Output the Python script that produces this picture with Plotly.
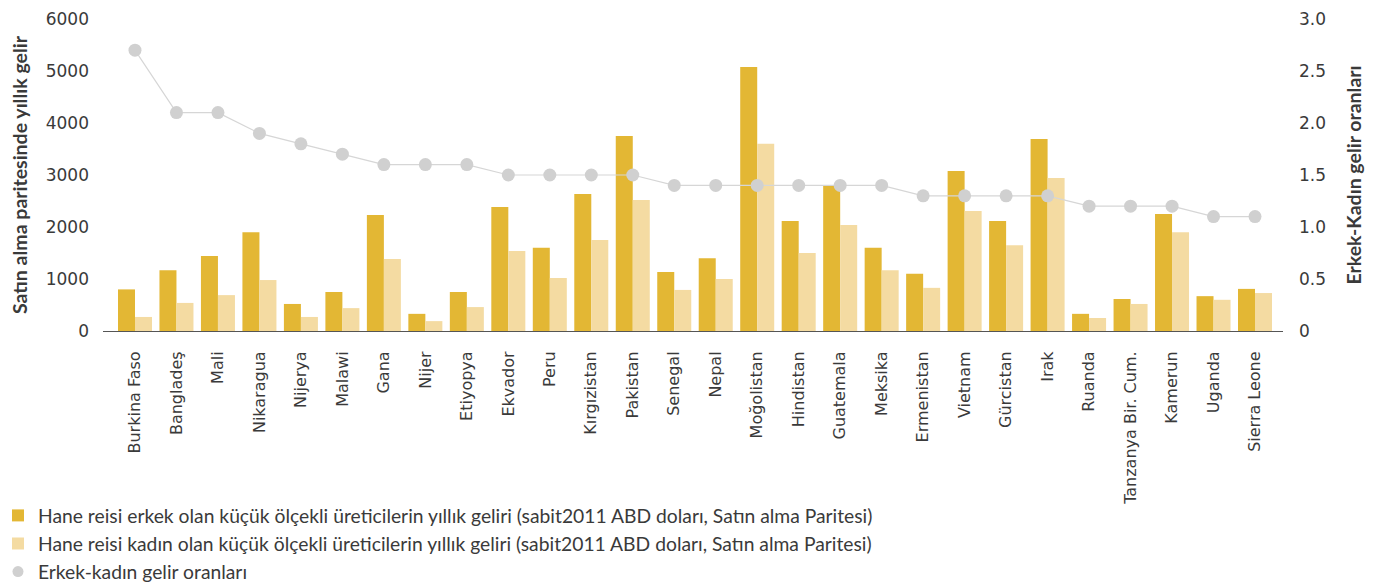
import plotly.graph_objects as go

countries = ["Burkina Faso", "Bangladeş", "Mali", "Nikaragua", "Nijerya", "Malawi", "Gana", "Nijer",
             "Etiyopya", "Ekvador", "Peru", "Kırgızistan", "Pakistan", "Senegal", "Nepal", "Moğolistan",
             "Hindistan", "Guatemala", "Meksika", "Ermenistan", "Vietnam", "Gürcistan", "Irak", "Ruanda",
             "Tanzanya Bir. Cum.", "Kamerun", "Uganda", "Sierra Leone"]
male_income = [800, 1170, 1440, 1900, 520, 750, 2230, 330,
               750, 2385, 1600, 2635, 3750, 1135, 1400, 5077,
               2115, 2790, 1600, 1100, 3077, 2115, 3690, 330,
               615, 2250, 670, 810]
female_income = [270, 540, 690, 980, 270, 440, 1385, 190,
                 460, 1540, 1020, 1750, 2520, 790, 1000, 3600,
                 1500, 2040, 1170, 830, 2310, 1650, 2940, 250,
                 520, 1900, 600, 730]
ratio = [2.7, 2.1, 2.1, 1.9, 1.8, 1.7, 1.6, 1.6,
         1.6, 1.5, 1.5, 1.5, 1.5, 1.4, 1.4, 1.4,
         1.4, 1.4, 1.4, 1.3, 1.3, 1.3, 1.3, 1.2,
         1.2, 1.2, 1.1, 1.1]
left_ticks = [0, 1000, 2000, 3000, 4000, 5000, 6000]
right_ticks = [0, 0.5, 1.0, 1.5, 2.0, 2.5, 3.0]
right_ticktext = ["0", "0.5", "1.0", "1.5", "2.0", "2.5", "3.0"]

name_m = "Hane reisi erkek olan küçük ölçekli üreticilerin yıllık geliri (sabit2011 ABD doları, Satın alma Paritesi)"
name_f = "Hane reisi kadın olan küçük ölçekli üreticilerin yıllık geliri (sabit2011 ABD doları, Satın alma Paritesi)"
name_r = "Erkek-kadın gelir oranları"

TICKFONT = "DejaVu Sans"
TEXTFONT = "Lato"
TXT = "#3a3a3a"

fig = go.Figure()
fig.add_trace(go.Bar(x=countries, y=male_income, name=name_m, marker_color="#E3B734",
                     marker_line_width=0))
fig.add_trace(go.Bar(x=countries, y=female_income, name=name_f, marker_color="#F4DBA2",
                     marker_line_width=0))
fig.add_trace(go.Scatter(x=countries, y=ratio, name=name_r, yaxis="y2", mode="lines+markers",
                         line=dict(color="#D6D6D6", width=1.2),
                         marker=dict(color="#D0D0D0", size=13), showlegend=False))
fig.add_trace(go.Scatter(x=[countries[0]], y=[None], name=name_r, yaxis="y2", mode="markers",
                         marker=dict(color="#D0D0D0", size=11)))

# page has an 8px body margin, so the figure is sized to fit the 1385x582 window
fig.update_layout(
    width=1377, height=574,
    margin=dict(l=95, r=102, t=11, b=251, autoexpand=False),
    paper_bgcolor="white", plot_bgcolor="white",
    font=dict(family=TEXTFONT, color=TXT, size=15),
    barmode="group", bargap=0.18, bargroupgap=0,
    showlegend=True,
    legend=dict(x=-0.089, xanchor="left", y=-0.53, yanchor="top",
                font=dict(family=TEXTFONT, size=19.3, color=TXT), tracegroupgap=0,
                bgcolor="rgba(0,0,0,0)"),
    xaxis=dict(range=[-0.771, 27.675], showline=True, linecolor="#555555", linewidth=1,
               showgrid=False, automargin=False, tickangle=-90,
               tickfont=dict(family=TICKFONT, size=16, color=TXT), ticks="", ticklabelstandoff=13),
    yaxis=dict(range=[0, 6000], tickvals=left_ticks, showgrid=False, zeroline=False, automargin=False,
               tickfont=dict(family=TICKFONT, size=17, color=TXT), ticks="", ticklabelstandoff=13,
               title=dict(text="<b>Satın alma paritesinde yıllık gelir</b>",
                          font=dict(family=TEXTFONT, size=19.5, color=TXT), standoff=16)),
    yaxis2=dict(range=[0, 3], tickvals=right_ticks, ticktext=right_ticktext, overlaying="y",
                side="right", showgrid=False, zeroline=False, automargin=False,
                tickfont=dict(family=TICKFONT, size=17, color=TXT), ticks="", ticklabelstandoff=15,
                title=dict(text="<b>Erkek-Kadın gelir oranları</b>",
                           font=dict(family=TEXTFONT, size=19.5, color=TXT), standoff=22)),
)

fig.write_html("out.html")
